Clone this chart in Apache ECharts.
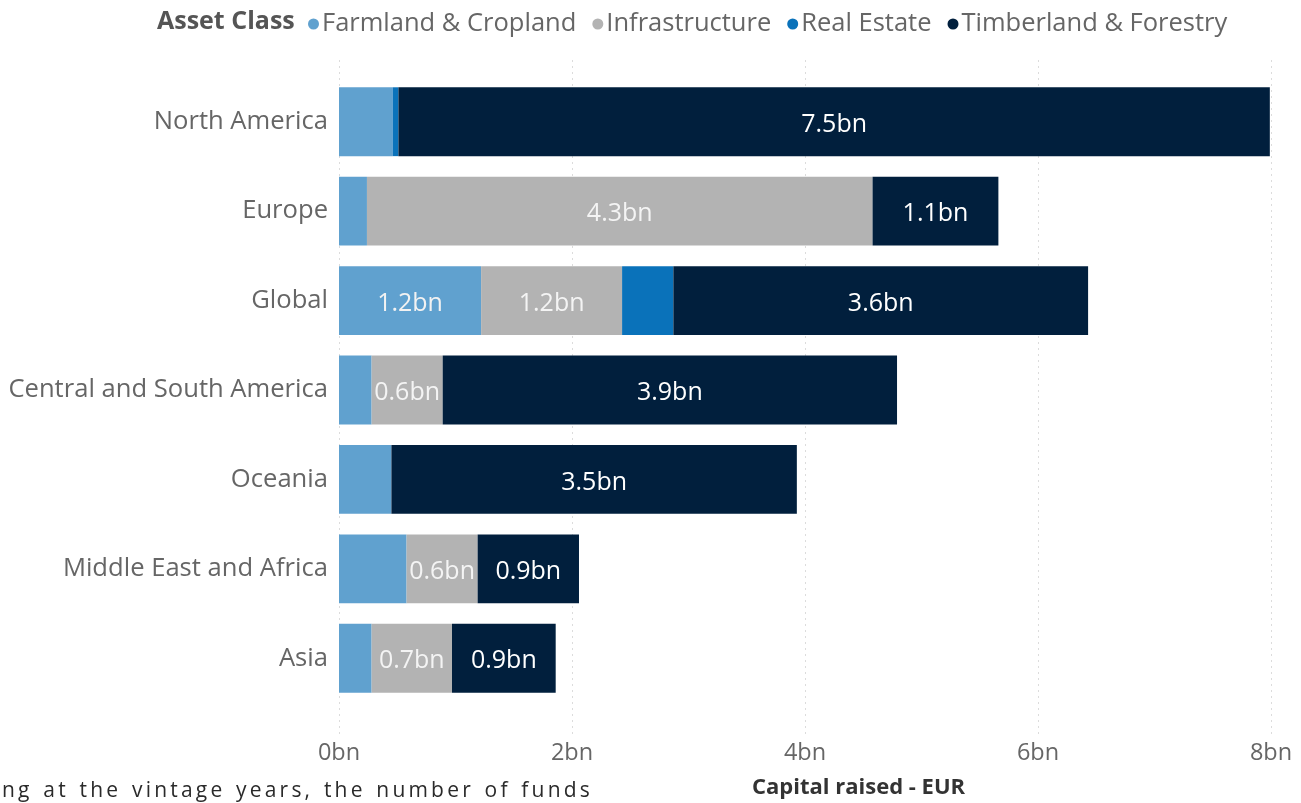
<!DOCTYPE html>
<html>
<head>
<meta charset="utf-8">
<script src="https://cdn.jsdelivr.net/npm/echarts@6/dist/echarts.min.js"></script>
<style>
  html, body { margin: 0; padding: 0; background: #ffffff; }
  #wrap { position: relative; width: 1301px; height: 803px; overflow: hidden; }
  #chart { width: 1301px; height: 803px; }
  #note {
    position: absolute; left: 2px; top: 775px;
    font-family: "Open Sans", "Noto Sans", sans-serif;
    font-size: 21px; color: #2a2a2a; white-space: nowrap;
    letter-spacing: 3.2px; word-spacing: 2px;
  }
</style>
</head>
<body>
<div id="wrap">
  <div id="chart"></div>
  <div id="note">ng at the vintage years, the number of funds</div>
</div>
<script>
// Capital raised by region and asset class (EUR bn)
const regions = ['North America', 'Europe', 'Global', 'Central and South America', 'Oceania', 'Middle East and Africa', 'Asia'];
const farmland = [0.46, 0.24, 1.22, 0.28, 0.45, 0.58, 0.28];
const infrastructure = [null, 4.34, 1.21, 0.61, null, 0.61, 0.69];
const realEstate = [0.05, null, 0.44, null, null, null, null];
const timberland = [7.48, 1.08, 3.56, 3.90, 3.48, 0.87, 0.89];
const xTicks = [0, 2, 4, 6, 8];

const FONT = '"Open Sans", "Noto Sans", sans-serif';

// segments narrower than this carry no value label
const LABEL_MIN = 0.6;

function segLabel(color) {
  return {
    show: true,
    position: 'inside',
    offset: [0, 3],
    color: color,
    fontFamily: FONT,
    fontSize: 25,
    formatter: p => (p.value != null && p.value >= LABEL_MIN) ? p.value.toFixed(1) + 'bn' : ''
  };
}

function barSeries(name, data, color, labelColor) {
  return {
    name: name,
    type: 'bar',
    stack: 'total',
    xAxisIndex: 0,
    yAxisIndex: 0,
    data: data,
    barCategoryGap: '23%',
    itemStyle: { color: color },
    label: segLabel(labelColor),
    emphasis: { disabled: true }
  };
}

const chart = echarts.init(document.getElementById('chart'), null, { renderer: 'canvas' });

chart.setOption({
  animation: false,
  textStyle: { fontFamily: FONT },
  title: {
    text: 'Asset Class',
    left: 152,
    top: 4,
    textStyle: { fontFamily: FONT, fontSize: 25, fontWeight: 'bold', color: '#555555' }
  },
  legend: {
    left: 303,
    top: 6,
    icon: 'circle',
    itemWidth: 11,
    itemHeight: 11,
    itemGap: 16,
    textStyle: { fontFamily: FONT, fontSize: 25.5, color: '#666666', padding: [0, 0, 0, -2] },
    data: ['Farmland & Cropland', 'Infrastructure', 'Real Estate', 'Timberland & Forestry']
  },
  grid: [
    { left: 339, right: 30, top: 77, bottom: 100 },
    { left: 339, right: 30, top: 60, bottom: 68 }
  ],
  xAxis: [
    {
      gridIndex: 0,
      type: 'value',
      min: 0,
      max: 8,
      interval: 2,
      axisLine: { show: false },
      axisTick: { show: false },
      splitLine: { show: false },
      axisLabel: {
        margin: 38,
        fontFamily: FONT,
        fontSize: 23.5,
        color: '#666666',
        formatter: v => xTicks.includes(v) ? v + 'bn' : ''
      }
    },
    {
      gridIndex: 1,
      type: 'value',
      min: 0,
      max: 8,
      interval: 2,
      axisLine: { show: false },
      axisTick: { show: false },
      axisLabel: { show: false },
      splitLine: { show: true, lineStyle: { color: '#dcdcdc', type: [2, 4], width: 1 } }
    }
  ],
  yAxis: [
    {
      gridIndex: 0,
      type: 'category',
      inverse: true,
      data: regions,
      axisLine: { show: false },
      axisTick: { show: false },
      axisLabel: { margin: 11, fontFamily: FONT, fontSize: 25.6, color: '#666666' }
    },
    {
      gridIndex: 1,
      type: 'category',
      data: [''],
      show: false
    }
  ],
  series: [
    barSeries('Farmland & Cropland', farmland, '#60a1cf', '#f2f2f2'),
    barSeries('Infrastructure', infrastructure, '#b3b3b3', '#f4f4f4'),
    barSeries('Real Estate', realEstate, '#0a72ba', '#ffffff'),
    barSeries('Timberland & Forestry', timberland, '#011f3d', '#ffffff')
  ],
  graphic: [
    {
      type: 'text',
      left: 752,
      top: 777,
      style: {
        text: 'Capital raised - EUR',
        font: 'bold 22px ' + FONT,
        fill: '#333333'
      }
    }
  ]
});
</script>
</body>
</html>
